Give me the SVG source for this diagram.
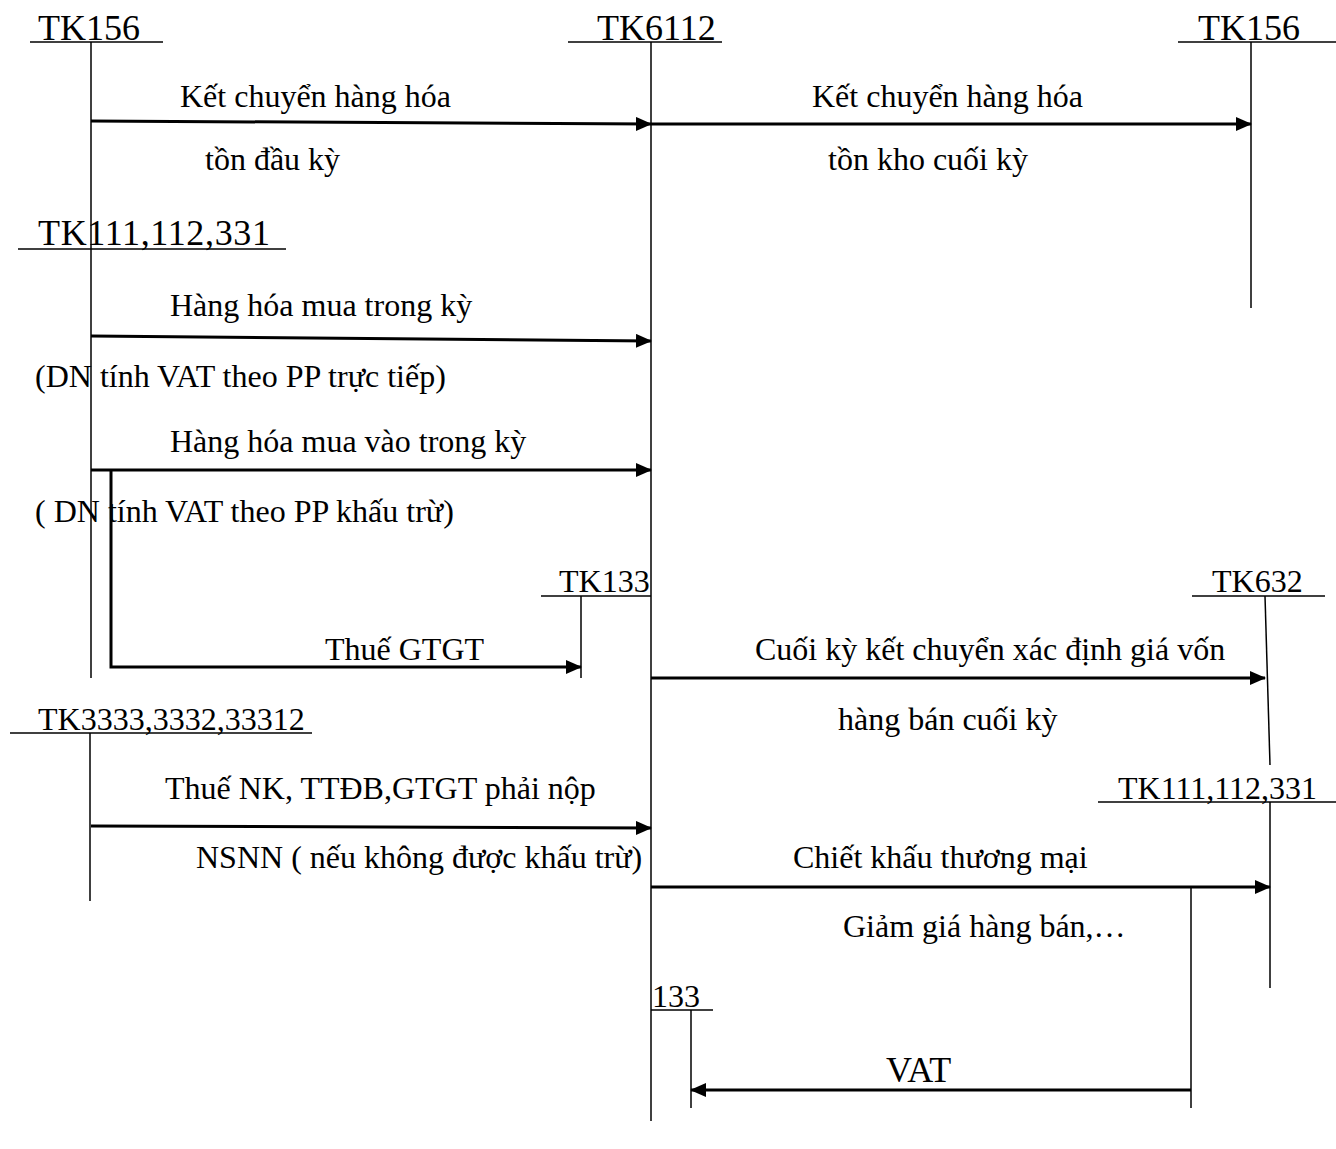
<svg xmlns="http://www.w3.org/2000/svg" width="1336" height="1149" viewBox="0 0 1336 1149">
<style>
text{font-family:"Liberation Serif","Times New Roman",serif;fill:#000;font-size:32px}
.big{font-size:36px}
.ul{stroke:#000;stroke-width:1.5;fill:none}
.ax{stroke:#000;stroke-width:1.5;fill:none}
.ar{stroke:#000;stroke-width:3;fill:none;marker-end:url(#ah)}
</style>
<defs>
<marker id="ah" markerWidth="16" markerHeight="14" refX="15" refY="7" orient="auto" markerUnits="userSpaceOnUse">
<path d="M0,0 L16,7 L0,14 Z" fill="#000"/>
</marker>
</defs>
<rect width="1336" height="1149" fill="#fff"/>
<g id="tk156-left">
<text class="big" x="38" y="40">TK156</text>
<line class="ul" x1="30" y1="42" x2="163" y2="42"/>
<line class="ax" x1="91" y1="42" x2="91" y2="249"/>
</g>
<g id="tk6112">
<text class="big" x="597" y="40">TK6112</text>
<line class="ul" x1="568" y1="42" x2="722" y2="42"/>
<line class="ax" x1="651" y1="42" x2="651" y2="1121"/>
</g>
<g id="tk156-right">
<text class="big" x="1198" y="40">TK156</text>
<line class="ul" x1="1178" y1="42" x2="1336" y2="42"/>
<line class="ax" x1="1251" y1="42" x2="1251" y2="308"/>
</g>
<g id="tk111-left">
<text class="big" x="38" y="245" textLength="232">TK111,112,331</text>
<line class="ul" x1="18" y1="249" x2="286" y2="249"/>
<line class="ax" x1="91" y1="249" x2="91" y2="678"/>
</g>
<g id="tk133">
<text x="559" y="592">TK133</text>
<line class="ul" x1="541" y1="596" x2="651" y2="596"/>
<line class="ax" x1="581" y1="596" x2="581" y2="678"/>
</g>
<g id="tk632">
<text x="1212" y="592">TK632</text>
<line class="ul" x1="1192" y1="596" x2="1325" y2="596"/>
<line class="ax" x1="1265" y1="596" x2="1270" y2="765"/>
</g>
<g id="tk3333">
<text x="38" y="730">TK3333,3332,33312</text>
<line class="ul" x1="10" y1="733" x2="312" y2="733"/>
<line class="ax" x1="90" y1="733" x2="90" y2="901"/>
</g>
<g id="tk111-right">
<text x="1118" y="799">TK111,112,331</text>
<line class="ul" x1="1098" y1="802" x2="1336" y2="802"/>
<line class="ax" x1="1270" y1="802" x2="1270" y2="988"/>
</g>
<g id="tk133b">
<text x="652" y="1007">133</text>
<line class="ul" x1="651" y1="1010" x2="713" y2="1010"/>
<line class="ax" x1="691" y1="1010" x2="691" y2="1108"/>
</g>
<g id="connectors">
<path class="ar" d="M91,121 L651,124"/>
<path class="ar" d="M651,124 L1251,124"/>
<path class="ar" d="M91,336 L651,341"/>
<path class="ar" d="M91,470 L651,470"/>
<path class="ar" d="M111,470 L111,667 L581,667"/>
<path class="ar" d="M651,678 L1265,678"/>
<path class="ar" d="M91,826 L651,828"/>
<path class="ar" d="M651,887 L1270,887"/>
<line class="ax" x1="1191" y1="887" x2="1191" y2="1108"/>
<path class="ar" d="M1191,1090 L691,1090"/>
</g>
<g id="labels">
<text x="180" y="107">Kết chuyển hàng hóa</text>
<text x="205" y="170">tồn đầu kỳ</text>
<text x="812" y="107">Kết chuyển hàng hóa</text>
<text x="828" y="170">tồn kho cuối kỳ</text>
<text x="170" y="316">Hàng hóa mua trong kỳ</text>
<text x="35" y="387">(DN tính VAT theo PP trực tiếp)</text>
<text x="170" y="452">Hàng hóa mua vào trong kỳ</text>
<text x="35" y="522">( DN tính VAT theo PP khấu trừ)</text>
<text x="325" y="660">Thuế GTGT</text>
<text x="755" y="660">Cuối kỳ kết chuyển xác định giá vốn</text>
<text x="838" y="730">hàng bán cuối kỳ</text>
<text x="165" y="799">Thuế NK, TTĐB,GTGT phải nộp</text>
<text x="196" y="868">NSNN ( nếu không được khấu trừ)</text>
<text x="793" y="868">Chiết khấu thương mại</text>
<text x="843" y="937">Giảm giá hàng bán,…</text>
<text class="big" x="886" y="1082">VAT</text>
</g>
</svg>
